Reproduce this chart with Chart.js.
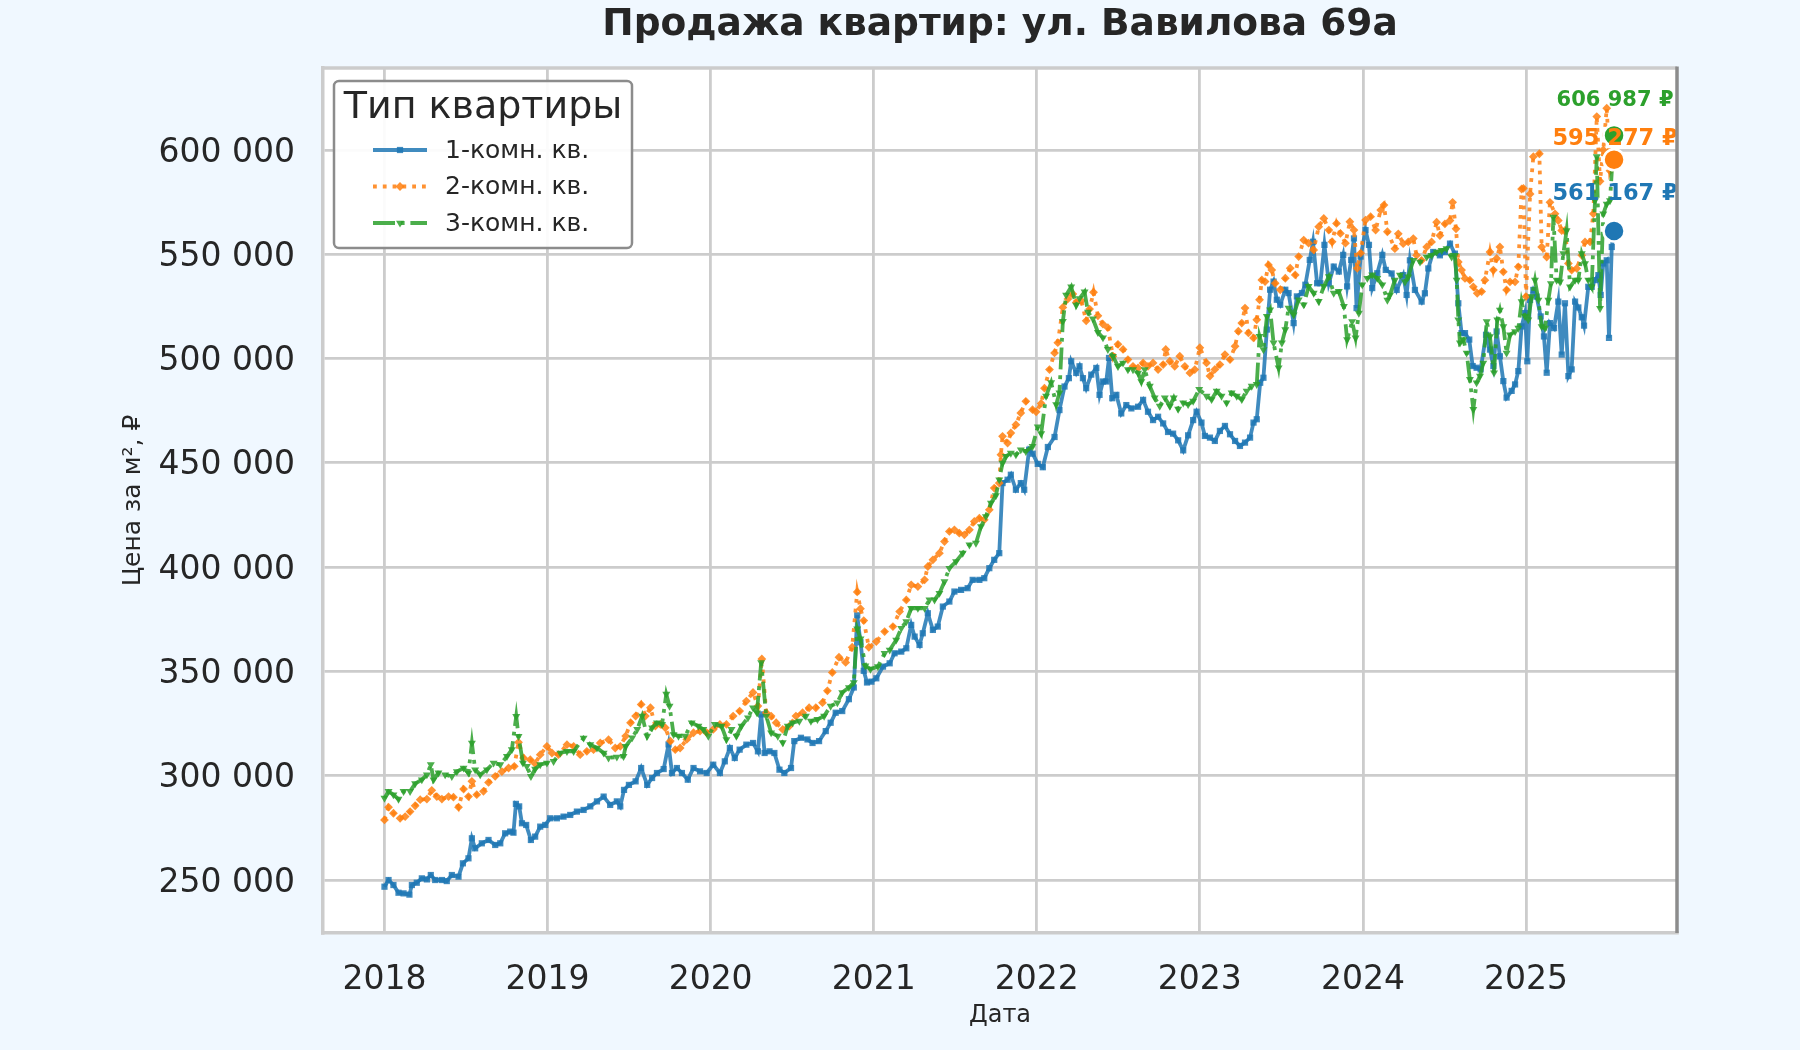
<!DOCTYPE html>
<html>
<head>
<meta charset="utf-8">
<script src="https://cdn.jsdelivr.net/npm/chart.js@4.4.1/dist/chart.umd.min.js"></script>
<style>
html,body{margin:0;padding:0;background:#f0f8ff;}
canvas{display:block;}
</style>
</head>
<body>
<canvas id="c" width="1800" height="1050"></canvas>
<script>
// ---------------- DATA ----------------
const chartTitle = 'Продажа квартир: ул. Вавилова 69а';
const seriesNames = ['1-комн. кв.', '2-комн. кв.', '3-комн. кв.'];
const legendTitle = 'Тип квартиры';
const xAxisTitle = 'Дата';
const yAxisTitle = 'Цена за м², ₽';
const xTickYears = [2018, 2019, 2020, 2021, 2022, 2023, 2024, 2025];
const yTickValues = [250000, 300000, 350000, 400000, 450000, 500000, 550000, 600000];

// dates as decimal years
const oneRoomDates = [2018.000,2018.025,2018.055,2018.086,2018.117,2018.153,2018.168,2018.198,2018.229,2018.260,2018.284,2018.311,2018.352,2018.382,2018.413,2018.454,2018.481,2018.515,2018.536,2018.556,2018.597,2018.638,2018.679,2018.710,2018.740,2018.771,2018.791,2018.806,2018.826,2018.843,2018.869,2018.898,2018.924,2018.955,2018.986,2019.016,2019.057,2019.098,2019.139,2019.180,2019.221,2019.262,2019.303,2019.344,2019.384,2019.425,2019.446,
2019.469,2019.499,2019.540,2019.574,2019.611,2019.641,2019.671,2019.712,2019.742,2019.763,2019.793,2019.824,2019.860,2019.895,2019.935,2019.976,2020.016,2020.057,2020.087,2020.118,2020.148,2020.178,2020.219,2020.260,2020.290,2020.310,2020.331,2020.361,2020.391,2020.422,2020.452,2020.493,2020.513,2020.554,2020.594,2020.625,2020.665,2020.706,2020.736,2020.767,2020.807,2020.848,2020.878,2020.899,2020.919,2020.939,2020.959,
2020.986,2021.016,2021.057,2021.098,2021.128,2021.169,2021.200,2021.230,2021.251,2021.281,2021.301,2021.332,2021.363,2021.393,2021.424,2021.464,2021.495,2021.536,2021.576,2021.607,2021.648,2021.678,2021.709,2021.739,2021.770,2021.790,2021.821,2021.841,2021.872,2021.902,2021.923,2021.953,
2021.975,2022.006,2022.037,2022.068,2022.109,2022.139,2022.170,2022.197,2022.211,2022.242,2022.262,2022.283,2022.303,2022.334,2022.365,2022.385,2022.406,2022.426,2022.443,2022.463,2022.488,2022.518,2022.549,2022.580,2022.621,2022.652,2022.682,2022.713,2022.744,2022.775,2022.805,2022.836,2022.867,2022.898,2022.928,2022.959,2022.980,
2023.010,2023.031,2023.062,2023.092,2023.123,2023.154,2023.185,2023.216,2023.246,2023.277,2023.308,2023.329,2023.349,2023.370,2023.390,2023.411,2023.431,2023.452,2023.472,2023.493,2023.524,2023.544,2023.575,2023.595,2023.626,2023.647,2023.674,2023.694,2023.719,2023.739,2023.764,2023.791,2023.821,2023.852,2023.879,2023.903,2023.928,2023.945,2023.961,2023.986,2024.016,2024.037,2024.057,2024.088,2024.119,2024.140,
2024.176,2024.207,2024.247,2024.268,2024.288,2024.319,2024.360,2024.380,2024.401,2024.431,2024.472,2024.503,2024.534,2024.564,2024.585,2024.605,2024.626,2024.652,2024.673,2024.697,2024.722,2024.755,2024.779,2024.800,2024.820,2024.840,2024.861,2024.881,2024.912,2024.933,2024.953,2024.973,2024.994,2025.008,2025.025,2025.045,2025.065,2025.090,2025.110,2025.127,2025.147,2025.172,2025.198,2025.219,2025.239,2025.260,2025.280,2025.301,2025.321,2025.342,2025.356,2025.382,2025.403,2025.423,2025.444,2025.458,2025.474,2025.495,2025.509,2025.526,2025.540];
const oneRoomPrices = [246800,250000,247600,243900,243600,243000,247600,248700,250800,250300,252400,250000,250000,249500,252400,251600,258000,260400,270000,265200,267600,269200,266800,267600,272400,273200,272700,286500,285300,277200,276400,269200,270800,275600,276400,279600,279600,280400,281200,282800,283600,285300,287700,290000,286000,287700,285300,
293200,295600,297300,303700,295600,298900,301300,303200,315000,301300,303700,301300,298100,303700,302100,301300,305300,301300,306900,313300,308500,312500,314900,315700,311700,329400,310900,311700,310900,302900,301300,303700,316600,318200,317400,315700,316600,321400,325400,330200,331000,336700,342300,376900,364000,350300,344700,
345100,346700,352300,353900,358700,359500,361100,372300,366700,362700,368300,377900,369900,371500,381100,383500,388300,389100,389900,393900,393900,394700,399500,403500,406700,440300,441900,444300,437100,440300,437100,456300,
454400,449500,447900,457600,462400,475300,486600,490600,498700,493100,496300,490600,485800,492300,495500,482600,489000,489000,500300,481000,482600,473700,477700,476100,476900,480200,474500,470500,472100,468900,464800,464000,460800,456000,463200,470500,474500,
469300,462900,462100,460500,465300,467700,463700,460500,458100,459700,462100,469300,470900,488400,490800,513900,533000,536900,528200,525800,533000,531400,517000,529800,531400,535400,547300,556000,536100,536100,554500,536100,544100,541700,549700,534600,547300,557600,524200,548900,561600,554500,533800,540900,549700,542500,
540800,532900,540000,530500,547100,532900,527300,531300,543200,551100,549500,551100,555100,550300,526500,512200,512200,509100,496400,495600,494800,511400,504300,496400,513000,501100,489200,481300,484500,487600,494000,515400,521800,498700,528100,532900,529700,520200,510600,493200,517000,514600,527300,501900,526500,491600,494800,527300,524500,519800,515800,534400,534400,537600,540000,530500,545600,547100,509900,553500,561167];

const twoRoomDates = [2018.000,2018.025,2018.055,2018.096,2018.127,2018.157,2018.188,2018.219,2018.260,2018.290,2018.321,2018.352,2018.393,2018.423,2018.454,2018.485,2018.515,2018.536,2018.566,2018.607,2018.638,2018.679,2018.720,2018.761,2018.796,2018.822,2018.853,2018.894,2018.924,2018.955,2018.996,2019.027,2019.067,2019.119,2019.160,2019.200,2019.241,2019.282,2019.323,2019.374,2019.415,2019.446,
2019.479,2019.509,2019.540,2019.574,2019.600,2019.631,2019.661,2019.692,2019.722,2019.753,2019.783,2019.813,2019.854,2019.895,2019.935,2019.976,2020.016,2020.057,2020.097,2020.138,2020.178,2020.219,2020.260,2020.290,2020.314,2020.341,2020.371,2020.402,2020.442,2020.483,2020.523,2020.564,2020.604,2020.645,2020.686,2020.716,2020.746,2020.787,2020.828,2020.868,2020.899,2020.919,2020.939,2020.970,
2021.016,2021.067,2021.118,2021.159,2021.200,2021.230,2021.271,2021.312,2021.332,2021.363,2021.403,2021.434,2021.464,2021.495,2021.525,2021.556,2021.587,2021.617,2021.648,2021.678,2021.709,2021.739,2021.770,2021.780,2021.790,2021.821,2021.841,2021.872,2021.902,2021.933,2021.974,
2021.996,2022.027,2022.047,2022.078,2022.109,2022.129,2022.160,2022.191,2022.221,2022.242,2022.273,2022.303,2022.324,2022.348,2022.375,2022.406,2022.436,2022.467,2022.498,2022.529,2022.559,2022.590,2022.621,2022.652,2022.682,2022.713,2022.744,2022.775,2022.791,2022.816,2022.846,2022.877,2022.908,2022.939,2022.969,2023.000,
2023.041,2023.062,2023.092,2023.123,2023.154,2023.185,2023.216,2023.236,2023.257,2023.277,2023.298,2023.329,2023.349,2023.366,2023.380,2023.400,2023.421,2023.441,2023.462,2023.493,2023.524,2023.554,2023.585,2023.606,2023.637,2023.667,2023.698,2023.729,2023.760,2023.791,2023.811,2023.838,2023.862,2023.893,2023.920,2023.945,2023.965,2023.986,2024.016,2024.047,2024.078,2024.109,2024.129,2024.150,
2024.196,2024.217,2024.247,2024.278,2024.309,2024.329,2024.360,2024.391,2024.421,2024.452,2024.472,2024.503,2024.534,2024.550,2024.571,2024.585,2024.605,2024.626,2024.656,2024.677,2024.701,2024.728,2024.748,2024.779,2024.800,2024.820,2024.840,2024.861,2024.881,2024.902,2024.933,2024.953,2024.973,2024.984,2025.000,2025.025,2025.045,2025.082,2025.096,2025.127,2025.147,2025.178,2025.198,2025.219,2025.239,2025.260,2025.280,2025.311,2025.342,2025.362,2025.393,2025.413,2025.434,2025.454,2025.474,2025.495,2025.515,2025.540];
const twoRoomPrices = [278800,284900,282000,279600,280400,282800,285600,288500,288800,293000,290000,288800,290000,289700,284900,293600,290000,297300,290900,292500,296800,299700,302000,303700,304500,316000,308500,307700,305800,310100,314100,310900,310100,314900,314100,310100,311700,312500,315700,317300,313300,314100,
319000,325400,328600,334200,328600,332600,323800,324600,323000,316600,312500,313300,317400,320600,321400,320600,322200,324600,324600,328600,331000,335800,339900,333400,356000,330200,328600,325400,322200,323800,328600,330200,332600,332600,335000,340700,349500,356800,354300,361600,388100,380100,374400,361600,
364300,369100,371500,378700,384300,391500,390700,393900,400300,403500,406700,412300,417100,417900,416300,415500,417900,421900,423500,422700,427500,437900,440300,453900,462700,459500,464300,468300,473900,479500,475500,
474500,478500,485800,494700,502700,507600,524500,528600,531000,526900,527700,518100,523700,531800,520500,516500,514800,501100,506800,504400,499500,496300,495500,497900,496300,497900,494700,497100,504400,498700,496300,501100,496300,493100,494700,505200,
497900,491600,494800,497100,501900,499500,505900,513100,517000,524200,512300,509900,518600,528200,537700,536900,544900,542500,536100,533000,538500,543300,540100,548900,556800,555300,552100,563200,567200,561600,556000,564800,560000,555300,565600,561600,543300,550500,566400,568000,561600,571200,573600,560800,
552700,559800,555100,555900,557500,549500,547100,553500,555900,565400,559000,564600,566200,574900,562200,546300,542400,538400,537600,534400,531300,532100,537600,551100,542400,548000,553500,541600,532900,536800,536800,544000,581300,581600,529700,578900,596800,598200,553500,548700,574900,569400,566200,561400,561400,545600,542400,543200,549500,555900,555900,569400,616000,585000,600000,620000,590000,595277];

const threeRoomDates = [2018.000,2018.025,2018.055,2018.086,2018.117,2018.157,2018.188,2018.229,2018.260,2018.284,2018.301,2018.331,2018.372,2018.413,2018.444,2018.485,2018.515,2018.536,2018.556,2018.587,2018.628,2018.669,2018.710,2018.751,2018.781,2018.808,2018.822,2018.849,2018.873,2018.898,2018.924,2018.955,2018.996,2019.037,2019.078,2019.119,2019.160,2019.221,2019.262,2019.303,2019.344,2019.374,2019.425,2019.466,
2019.479,2019.519,2019.550,2019.580,2019.611,2019.641,2019.671,2019.702,2019.728,2019.748,2019.773,2019.803,2019.844,2019.884,2019.925,2019.955,2019.986,2020.026,2020.067,2020.097,2020.128,2020.158,2020.189,2020.229,2020.260,2020.284,2020.310,2020.341,2020.371,2020.412,2020.442,2020.473,2020.503,2020.544,2020.584,2020.615,2020.655,2020.696,2020.736,2020.777,2020.807,2020.848,2020.878,2020.899,2020.919,2020.949,2020.980,
2021.026,2021.067,2021.098,2021.138,2021.169,2021.200,2021.230,2021.271,2021.312,2021.342,2021.373,2021.403,2021.434,2021.464,2021.505,2021.546,2021.587,2021.627,2021.658,2021.688,2021.719,2021.749,2021.770,2021.790,2021.811,2021.841,2021.872,2021.902,2021.933,2021.974,
2022.006,2022.027,2022.057,2022.088,2022.119,2022.139,2022.160,2022.180,2022.211,2022.242,2022.262,2022.293,2022.314,2022.344,2022.375,2022.406,2022.436,2022.467,2022.498,2022.529,2022.559,2022.590,2022.621,2022.641,2022.662,2022.693,2022.723,2022.754,2022.785,2022.816,2022.840,2022.867,2022.898,2022.928,2022.959,2022.996,
2023.041,2023.072,2023.103,2023.133,2023.164,2023.195,2023.226,2023.257,2023.287,2023.318,2023.349,2023.366,2023.390,2023.411,2023.431,2023.452,2023.483,2023.503,2023.524,2023.544,2023.575,2023.606,2023.637,2023.667,2023.698,2023.729,2023.760,2023.791,2023.821,2023.852,2023.883,2023.903,2023.934,2023.955,2023.975,2023.996,2024.027,2024.057,2024.088,2024.119,2024.150,
2024.166,2024.196,2024.227,2024.258,2024.278,2024.309,2024.350,2024.391,2024.421,2024.452,2024.483,2024.513,2024.544,2024.564,2024.575,2024.585,2024.595,2024.616,2024.636,2024.656,2024.677,2024.697,2024.718,2024.738,2024.759,2024.779,2024.804,2024.824,2024.840,2024.861,2024.881,2024.902,2024.933,2024.953,2024.973,2024.994,2025.014,2025.035,2025.055,2025.076,2025.096,2025.117,2025.137,2025.153,2025.168,2025.188,2025.209,2025.229,2025.249,2025.270,2025.301,2025.321,2025.342,2025.362,2025.382,2025.403,2025.423,2025.434,2025.454,2025.474,2025.495,2025.515,2025.540];
const threeRoomPrices = [289300,292500,290900,288800,292500,292500,296200,298100,300500,305300,298100,301400,300500,299700,302000,303700,301300,315700,302900,300500,302900,306100,305300,309300,312500,328500,318900,306100,304500,299700,303200,305300,306100,306900,310900,311700,311700,318100,314900,313300,310900,308500,309000,309300,
314100,318200,322200,328600,319000,323000,325400,324600,339100,333400,319800,319000,319000,325400,323800,322200,319000,324600,323800,317400,322200,319000,323800,327800,332600,330200,354300,328600,320600,319000,315900,323800,325400,326200,328600,326200,327000,328600,333400,335000,339900,342300,344700,370400,365600,352700,351100,
352300,358700,360300,365100,370700,373900,380300,380300,380300,384300,384300,387500,393100,399500,402700,406700,410700,411500,419500,424300,430700,434300,441900,449900,453100,454700,453900,456300,455500,457900,
467300,464000,482000,488500,478000,483600,517900,530400,534400,525600,528800,532000,522300,519100,512600,510000,504400,501100,496300,497900,494700,494700,493100,489000,494700,486800,481200,477200,481200,477200,481200,475800,478800,478000,479600,485300,
482000,480400,484400,482000,478800,483600,482000,480400,484400,486800,487600,510700,504300,520200,523400,507500,495600,507500,513900,524200,521000,528200,525800,534600,531400,527400,534600,539300,531400,532200,525000,509100,517800,509900,521800,535400,538500,540100,538500,535400,528000,
530500,537600,540000,536800,539200,547100,546300,548700,549500,551100,551900,552700,548700,549500,537600,518600,507500,509100,502700,490000,475700,488400,491600,497900,517800,510600,493200,518600,523300,515400,502700,511400,513000,514600,527300,520200,518600,529700,537600,528100,515400,514600,528100,536000,567800,537600,536800,550300,561400,534400,537600,537600,550300,545600,537600,534400,575700,596800,524100,569400,574100,575700,606987];

// ---------------- HELPERS ----------------
const fmtNum = v => String(Math.round(v)).replace(/\B(?=(\d{3})+(?!\d))/g, ' ');
const toPoints = (dates, prices) => dates.map((d, i) => ({x: d, y: prices[i]}));
const lastPoint = (dates, prices) => [{x: dates[dates.length - 1], y: prices[prices.length - 1]}];

const COLORS = ['#1f77b4', '#ff7f0e', '#2ca02c'];
const LINE_COLORS = ['rgba(31,119,180,0.85)', 'rgba(255,127,14,0.85)', 'rgba(44,160,44,0.85)'];
const TEXT = '#262626';
const FONT = "'DejaVu Sans', 'Noto Sans', sans-serif";
Chart.defaults.font.family = FONT;
Chart.defaults.color = TEXT;

const seriesDates = [oneRoomDates, twoRoomDates, threeRoomDates];
const seriesPrices = [oneRoomPrices, twoRoomPrices, threeRoomPrices];
const styles = [
  {dash: [], pointStyle: 'rect', radius: 4.4, rotation: 0},
  {dash: [3.8, 6], pointStyle: 'rectRot', radius: 4.4, rotation: 0},
  {dash: [22, 5.8, 3.8, 5.8], pointStyle: 'triangle', radius: 4.6, rotation: 180}
];
const labelStyle = [
  {dy: -36.5, size: 22.5},
  {dy: -20.5, size: 22.5},
  {dy: -34.5, size: 21}
];

const mainSets = seriesNames.map((name, i) => ({
  label: name,
  data: toPoints(seriesDates[i], seriesPrices[i]),
  borderColor: LINE_COLORS[i],
  backgroundColor: LINE_COLORS[i],
  borderWidth: 3.8,
  borderDash: styles[i].dash,
  pointStyle: styles[i].pointStyle,
  pointRotation: styles[i].rotation,
  pointRadius: styles[i].radius,
  pointBorderWidth: 0,
  pointBackgroundColor: LINE_COLORS[i],
  tension: 0,
  order: 3 - i
}));
const endSets = seriesNames.map((name, i) => ({
  label: name + ' (последнее)',
  data: lastPoint(seriesDates[i], seriesPrices[i]),
  showLine: false,
  pointStyle: 'circle',
  pointRadius: 10.5,
  pointBorderWidth: 2.5,
  pointBorderColor: '#ffffff',
  pointBackgroundColor: COLORS[i],
  order: 0,
  isEnd: true
}));

// ---------------- PLUGINS ----------------
const bgPlugin = {
  id: 'bg',
  beforeDraw(chart) {
    const {ctx, chartArea: a} = chart;
    ctx.save();
    ctx.fillStyle = '#f0f8ff';
    ctx.fillRect(0, 0, chart.width, chart.height);
    ctx.fillStyle = '#ffffff';
    ctx.fillRect(a.left, a.top, a.right - a.left, a.bottom - a.top);
    ctx.restore();
  },
  afterDraw(chart) {
    const {ctx, chartArea: a} = chart;
    ctx.save();
    // title centred over the plot area
    ctx.fillStyle = TEXT;
    ctx.font = 'bold 37.5px ' + FONT;
    ctx.textAlign = 'center';
    ctx.textBaseline = 'middle';
    ctx.fillText(chartTitle, (a.left + a.right) / 2, 25);
    // top & right spines
    ctx.strokeStyle = '#cccccc';
    ctx.lineWidth = 3.5;
    ctx.beginPath();
    ctx.moveTo(a.left - 1.5, a.top);
    ctx.lineTo(a.right, a.top);
    ctx.stroke();
    ctx.strokeStyle = '#8c8c8c';
    ctx.lineWidth = 3.5;
    ctx.beginPath();
    ctx.moveTo(a.right, a.top - 1.5);
    ctx.lineTo(a.right, a.bottom);
    ctx.stroke();
    ctx.restore();
  }
};

const endLabelPlugin = {
  id: 'endLabels',
  afterDatasetsDraw(chart) {
    const ctx = chart.ctx;
    ctx.save();
    ctx.textAlign = 'center';
    ctx.textBaseline = 'middle';
    chart.data.datasets.forEach((ds, di) => {
      if (!ds.isEnd) return;
      const i = di - seriesNames.length;
      const el = chart.getDatasetMeta(di).data[0];
      ctx.font = 'bold ' + labelStyle[i].size + 'px ' + FONT;
      ctx.fillStyle = COLORS[i];
      ctx.fillText(fmtNum(ds.data[0].y) + ' ₽', el.x + 1, el.y + labelStyle[i].dy);
    });
    ctx.restore();
  }
};

const legendPlugin = {
  id: 'boxLegend',
  afterDraw(chart) {
    const {ctx, chartArea: a} = chart;
    const bx = a.left + 11, by = a.top + 13, bw = 298, bh = 167;
    ctx.save();
    ctx.fillStyle = 'rgba(255,255,255,0.92)';
    ctx.strokeStyle = '#8c8c8c';
    ctx.lineWidth = 2.5;
    ctx.beginPath();
    ctx.roundRect(bx, by, bw, bh, 5);
    ctx.fill();
    ctx.stroke();
    ctx.fillStyle = TEXT;
    ctx.textBaseline = 'middle';
    ctx.textAlign = 'center';
    ctx.font = '38px ' + FONT;
    ctx.fillText(legendTitle, bx + bw / 2, by + 27);
    ctx.textAlign = 'left';
    ctx.font = '25px ' + FONT;
    seriesNames.forEach((name, i) => {
      const y = by + 69 + i * 36.5;
      const x0 = bx + 39, x1 = bx + 93;
      ctx.save();
      ctx.strokeStyle = LINE_COLORS[i];
      ctx.lineWidth = 3.8;
      ctx.setLineDash(styles[i].dash);
      ctx.beginPath();
      ctx.moveTo(x0, y);
      ctx.lineTo(x1, y);
      ctx.stroke();
      ctx.setLineDash([]);
      ctx.fillStyle = LINE_COLORS[i];
      ctx.strokeStyle = LINE_COLORS[i];
      Chart.helpers.drawPoint(ctx, {pointStyle: styles[i].pointStyle, rotation: styles[i].rotation, radius: styles[i].radius, borderWidth: 0}, (x0 + x1) / 2, y);
      ctx.restore();
      ctx.fillStyle = TEXT;
      ctx.fillText(name, bx + 111, y + 1);
    });
    ctx.restore();
  }
};

// ---------------- CHART ----------------
new Chart(document.getElementById('c'), {
  type: 'line',
  data: {datasets: [...mainSets, ...endSets]},
  options: {
    responsive: false,
    animation: false,
    devicePixelRatio: 1,
    layout: {padding: {top: 68, right: 123, bottom: 0, left: 0}},
    plugins: {
      legend: {display: false},
      tooltip: {enabled: false},
      title: {display: false}
    },
    scales: {
      x: {
        type: 'linear',
        min: 2017.623,
        max: 2025.926,
        afterBuildTicks: axis => { axis.ticks = xTickYears.map(v => ({value: v})); },
        afterFit: axis => { axis.height = 117; },
        ticks: {
          callback: v => String(v),
          font: {size: 33},
          color: TEXT,
          padding: 28,
          autoSkip: false,
          maxRotation: 0
        },
        grid: {color: '#cccccc', lineWidth: 2.8, drawTicks: false},
        border: {color: '#cccccc', width: 3.5},
        title: {display: true, text: xAxisTitle, color: TEXT, font: {size: 24, lineHeight: 1.2}, padding: {top: 0, bottom: 19.6}}
      },
      y: {
        type: 'linear',
        min: 224600,
        max: 639300,
        afterBuildTicks: axis => { axis.ticks = yTickValues.map(v => ({value: v})); },
        afterFit: axis => { axis.width = 323; },
        ticks: {
          callback: v => fmtNum(v),
          font: {size: 33},
          color: TEXT,
          padding: 28,
          labelOffset: 3
        },
        grid: {color: '#cccccc', lineWidth: 2.8, drawTicks: false},
        border: {color: '#cccccc', width: 3.5},
        title: {display: true, text: yAxisTitle, color: TEXT, font: {size: 25, lineHeight: 1.2}, padding: {top: 118, bottom: 0}}
      }
    }
  },
  plugins: [bgPlugin, endLabelPlugin, legendPlugin]
});
</script>
</body>
</html>
